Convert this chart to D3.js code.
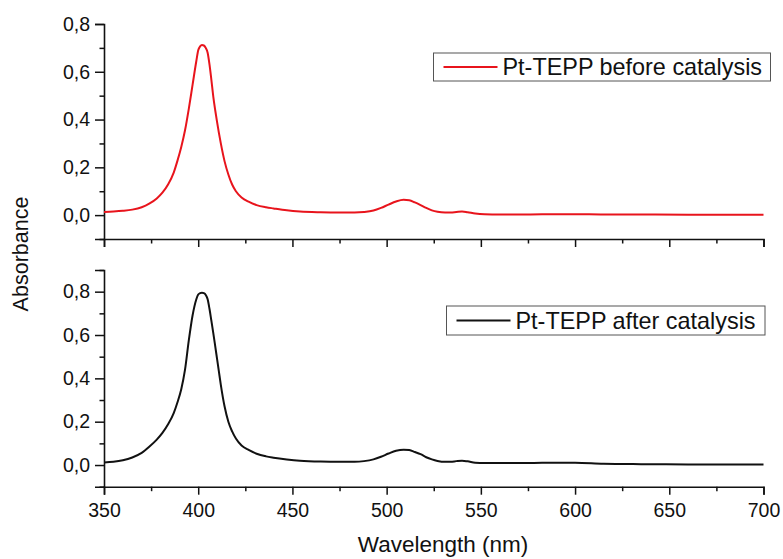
<!DOCTYPE html>
<html>
<head>
<meta charset="utf-8">
<script src="https://cdn.jsdelivr.net/npm/d3@7"></script>
<style>
  html, body { margin: 0; padding: 0; background: #fff; }
  svg { display: block; font-family: "Liberation Sans", Arial, sans-serif; }
</style>
</head>
<body>
<svg id="chart" width="783" height="559"></svg>
<script>
// ---- data ----
const wavelength = [350,355,360,365,370,374,378,381,384,387,389,391,393,395,397,399,400,401,402,403,404,405,406,407,408,409,410,411,412,414,416,418,420,423,427,431,436,440,447,454,465,475,483,488,493,497,501,505,509,512,515,518,521,524,527,531,534,537,540,543,547,552,560,575,590,600,615,635,660,680,700];
const absBefore = [0.013,0.015,0.018,0.023,0.033,0.048,0.070,0.094,0.128,0.178,0.228,0.285,0.355,0.445,0.545,0.645,0.690,0.706,0.712,0.710,0.700,0.680,0.630,0.565,0.496,0.440,0.390,0.343,0.300,0.225,0.170,0.128,0.100,0.074,0.055,0.042,0.033,0.028,0.020,0.015,0.012,0.011,0.011,0.013,0.019,0.030,0.044,0.057,0.064,0.062,0.053,0.042,0.030,0.020,0.014,0.011,0.011,0.013,0.015,0.012,0.007,0.004,0.003,0.003,0.004,0.004,0.003,0.003,0.002,0.001,0.001];
const absAfter = [0.012,0.015,0.022,0.035,0.056,0.084,0.117,0.148,0.188,0.240,0.290,0.350,0.440,0.575,0.690,0.765,0.787,0.793,0.795,0.793,0.785,0.765,0.720,0.665,0.609,0.550,0.490,0.430,0.370,0.270,0.200,0.155,0.122,0.090,0.069,0.052,0.040,0.034,0.026,0.020,0.016,0.015,0.015,0.018,0.026,0.038,0.053,0.066,0.071,0.069,0.060,0.050,0.036,0.026,0.019,0.015,0.015,0.018,0.020,0.017,0.011,0.009,0.009,0.009,0.011,0.011,0.006,0.004,0.003,0.002,0.002];
const seriesNames = ["Pt-TEPP before catalysis", "Pt-TEPP after catalysis"];
const seriesColors = ["#e8141c", "#111111"];
const xTicks = [350,400,450,500,550,600,650,700];
const xMinorTicks = [375,425,475,525,575,625,675];
const yTicksTop = [0.0,0.2,0.4,0.6,0.8];
const yMinorTop = [-0.1,0.1,0.3,0.5,0.7];
const yTicksBottom = [0.0,0.2,0.4,0.6,0.8];
const yMinorBottom = [-0.1,0.1,0.3,0.5,0.7,0.9];
const xLabel = "Wavelength (nm)";
const yLabel = "Absorbance";

// ---- drawing ----
const svg = d3.select("#chart");
const x = d3.scaleLinear().domain([350, 700]).range([104, 763.5]);
const fmt = v => d3.format(".1f")(v).replace(".", ",").replace("-", "−");

const panels = [
  { vals: absBefore, domain: [-0.1, 0.8], range: [239, 24], majors: yTicksTop, minors: yMinorTop, showX: false,
    legend: { x0: 433.5, y0: 53, x1: 770.5, y1: 81 } },
  { vals: absAfter, domain: [-0.1, 0.9], range: [486.7, 270], majors: yTicksBottom, minors: yMinorBottom, showX: true,
    legend: { x0: 446.5, y0: 306, x1: 765, y1: 335 } }
];

panels.forEach((p, i) => {
  const y = d3.scaleLinear().domain(p.domain).range(p.range);
  const g = svg.append("g");

  // minor y ticks
  g.append("g").attr("transform", `translate(${x.range()[0]},0)`)
    .call(d3.axisLeft(y).tickValues(p.minors).tickSize(4.5).tickFormat(""))
    .call(a => a.select(".domain").remove())
    .call(a => a.selectAll("line").attr("stroke", "#111").attr("stroke-width", 1.5));
  // major y ticks
  g.append("g").attr("transform", `translate(${x.range()[0]},0)`)
    .call(d3.axisLeft(y).tickValues(p.majors).tickSize(9).tickPadding(5).tickFormat(fmt))
    .call(a => a.select(".domain").attr("stroke", "#111").attr("stroke-width", 1.6))
    .call(a => a.selectAll("line").attr("stroke", "#111").attr("stroke-width", 1.5))
    .call(a => a.selectAll("text").attr("font-size", 19.5).attr("fill", "#111")
      .attr("font-family", "Liberation Sans, Arial, sans-serif"));

  // x axis
  const xa = g.append("g").attr("transform", `translate(0,${p.range[0]})`);
  xa.call(d3.axisBottom(x).tickValues(xTicks).tickSize(8).tickPadding(8).tickFormat(p.showX ? d3.format("d") : ""))
    .call(a => a.select(".domain").attr("stroke", "#111").attr("stroke-width", 1.6))
    .call(a => a.selectAll("line").attr("stroke", "#111").attr("stroke-width", 1.5))
    .call(a => a.selectAll("text").attr("font-size", 19.5).attr("fill", "#111")
      .attr("font-family", "Liberation Sans, Arial, sans-serif"));
  g.append("g").attr("transform", `translate(0,${p.range[0]})`)
    .call(d3.axisBottom(x).tickValues(xMinorTicks).tickSize(4.5).tickFormat(""))
    .call(a => a.select(".domain").remove())
    .call(a => a.selectAll("line").attr("stroke", "#111").attr("stroke-width", 1.5));

  // line
  const line = d3.line()
    .x((d, j) => x(wavelength[j]))
    .y(d => y(d))
    .curve(d3.curveMonotoneX);
  g.append("path").datum(p.vals)
    .attr("d", line)
    .attr("fill", "none")
    .attr("stroke", seriesColors[i])
    .attr("stroke-width", 2);

  // legend
  const L = p.legend;
  g.append("rect").attr("x", L.x0).attr("y", L.y0).attr("width", L.x1 - L.x0).attr("height", L.y1 - L.y0)
    .attr("fill", "#fff").attr("stroke", "#555").attr("stroke-width", 1);
  const ly = (L.y0 + L.y1) / 2;
  g.append("line").attr("x1", L.x0 + 10).attr("x2", L.x0 + 64).attr("y1", ly).attr("y2", ly)
    .attr("stroke", seriesColors[i]).attr("stroke-width", 2);
  g.append("text").attr("x", L.x0 + 69).attr("y", ly + 8)
    .attr("font-size", 23.4).attr("fill", "#111").text(seriesNames[i]);
});

// axis titles
svg.append("text").attr("x", 443).attr("y", 552).attr("text-anchor", "middle")
  .attr("font-size", 22.5).attr("fill", "#111").text(xLabel);
svg.append("text").attr("transform", "translate(28,254) rotate(-90)").attr("text-anchor", "middle")
  .attr("font-size", 21.5).attr("fill", "#111").text(yLabel);
</script>
</body>
</html>
